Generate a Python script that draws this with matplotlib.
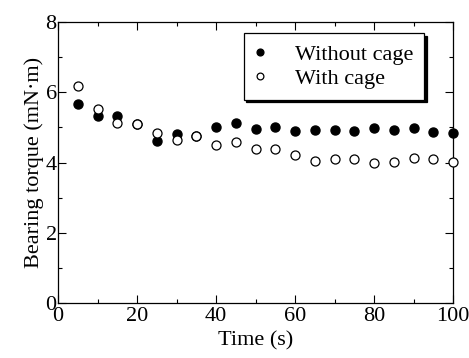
import matplotlib
matplotlib.use('Agg')
import matplotlib.pyplot as plt
from matplotlib.ticker import MultipleLocator

plt.rcParams['font.family'] = ['Liberation Serif', 'DejaVu Serif']

# ── Data ──────────────────────────────────────────────────────────────────
time_s = [5, 10, 15, 20, 25, 30, 35, 40, 45, 50,
          55, 60, 65, 70, 75, 80, 85, 90, 95, 100]
torque_without = [5.67, 5.32, 5.32, 5.11, 4.62, 4.81, 4.76, 5.02, 5.13, 4.96,
                  5.00, 4.90, 4.92, 4.93, 4.91, 4.98, 4.93, 4.98, 4.88, 4.85]
torque_with = [6.19, 5.53, 5.13, 5.11, 4.83, 4.64, 4.76, 4.49, 4.57, 4.38,
               4.38, 4.20, 4.05, 4.10, 4.10, 3.98, 4.02, 4.14, 4.10, 4.01]

fig = plt.figure(figsize=(4.69, 3.58), dpi=100)
ax = fig.add_axes([0.1237, 0.1536, 0.8422, 0.7849])

ax.plot(time_s, torque_without, 'o', color='black', ms=6.5,
        label='Without cage', clip_on=False, zorder=3)
ax.plot(time_s, torque_with, 'o', mfc='white', mec='black', mew=0.9, ms=6.5,
        label='With cage', clip_on=False, zorder=4)

ax.set_xlim(0, 100)
ax.set_ylim(0, 8)
ax.xaxis.set_major_locator(MultipleLocator(20))
ax.xaxis.set_minor_locator(MultipleLocator(10))
ax.yaxis.set_major_locator(MultipleLocator(2))
ax.yaxis.set_minor_locator(MultipleLocator(1))
ax.tick_params(which='both', direction='in', top=True, right=True,
               labelsize=16, width=0.8)
ax.tick_params(which='major', length=6)
ax.tick_params(axis='x', which='major', pad=3)
ax.tick_params(axis='y', which='major', pad=1)
ax.tick_params(which='minor', length=3)
for s in ax.spines.values():
    s.set_linewidth(0.9)

ax.set_xlabel('Time (s)', fontsize=16, labelpad=4)
ax.set_ylabel('Bearing torque (mN\u00b7m)', fontsize=16, labelpad=1)

leg = ax.legend(loc='upper right', bbox_to_anchor=(0.927, 0.961), fontsize=16,
                markerscale=0.75, handlelength=0.5, handletextpad=1.3,
                borderpad=0.5, labelspacing=0.15, borderaxespad=0,
                fancybox=False, framealpha=1, edgecolor='black',
                shadow={'color': 'black', 'alpha': 1, 'ox': 2, 'oy': -2})
leg.get_frame().set_linewidth(0.9)

fig.savefig('out.png', dpi=100)
